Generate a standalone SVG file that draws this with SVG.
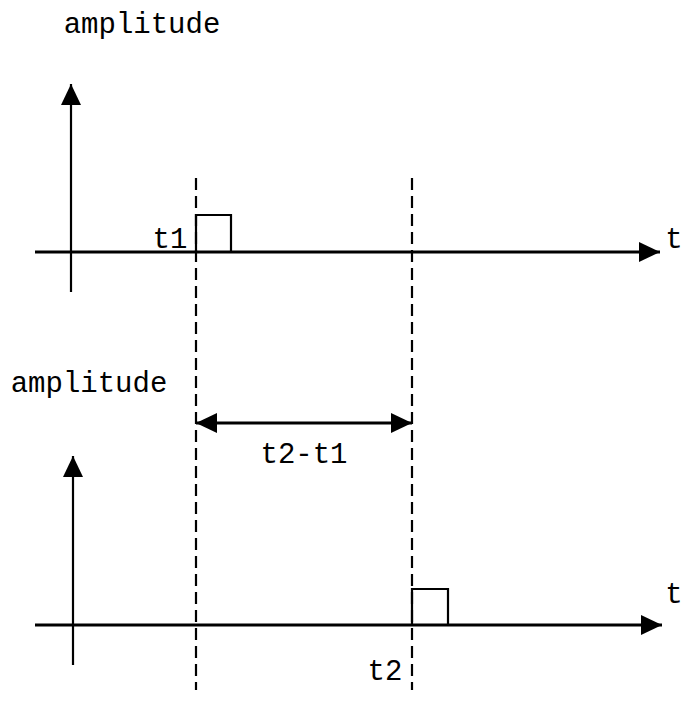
<svg xmlns="http://www.w3.org/2000/svg" width="684" height="707" viewBox="0 0 684 707">
<style>
text{font-family:"Liberation Mono","Courier New",monospace;font-size:29px;fill:#000}
.ax{stroke:#000;stroke-width:3;fill:none}
.vax{stroke:#000;stroke-width:2.2;fill:none}
.dash{stroke:#000;stroke-width:2.2;stroke-dasharray:12 6;fill:none}
.pulse{stroke:#000;stroke-width:2.2;fill:none}
</style>
<defs>
<marker id="ah" viewBox="0 0 21 20" refX="21" refY="10" markerUnits="userSpaceOnUse" markerWidth="21" markerHeight="20" orient="auto-start-reverse">
<path d="M0,0 L21,10 L0,20 Z" fill="#000"/>
</marker>
</defs>
<rect width="684" height="707" fill="#fff"/>
<g id="top-plot">
<text x="142" y="33" text-anchor="middle">amplitude</text>
<text x="170" y="248" text-anchor="middle">t1</text>
<text x="674" y="248" text-anchor="middle">t</text>
<path class="pulse" d="M196,252 V215 H231 V252"/>
</g>
<g id="bottom-plot">
<text x="89" y="392" text-anchor="middle">amplitude</text>
<text x="385" y="680" text-anchor="middle">t2</text>
<text x="674" y="603" text-anchor="middle">t</text>
<path class="pulse" d="M412,625 V589 H448 V625"/>
</g>
<g id="interval-label">
<text x="304" y="463" text-anchor="middle">t2-t1</text>
</g>
<g id="connectors">
<line class="vax" x1="71" y1="292" x2="71" y2="84" marker-end="url(#ah)"/>
<line class="ax" x1="35" y1="252" x2="660" y2="252" marker-end="url(#ah)"/>
<line class="vax" x1="73" y1="665" x2="73" y2="456" marker-end="url(#ah)"/>
<line class="ax" x1="35" y1="625" x2="662" y2="625" marker-end="url(#ah)"/>
<line class="dash" x1="196" y1="178" x2="196" y2="690"/>
<line class="dash" x1="412" y1="178" x2="412" y2="690"/>
<line class="ax" x1="196" y1="423" x2="412" y2="423" marker-start="url(#ah)" marker-end="url(#ah)"/>
</g>
</svg>
